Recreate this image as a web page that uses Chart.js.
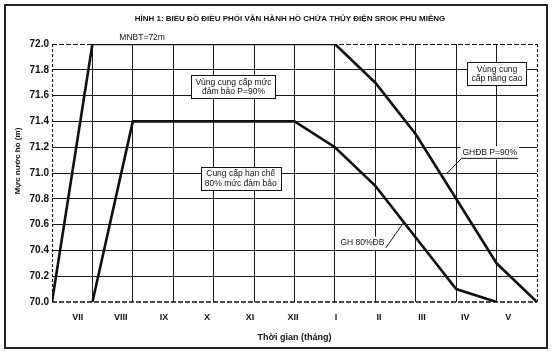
<!DOCTYPE html>
<html><head><meta charset="utf-8">
<script src="https://cdn.jsdelivr.net/npm/chart.js@4"></script>
<style>html,body{margin:0;padding:0;background:#fff}#wrap{width:554px;height:360px}</style>
</head><body><div id="wrap"><canvas id="c" width="554" height="360"></canvas></div>
<script>
// ---- data ----
const monthLabels = ['VII','VIII','IX','X','XI','XII','I','II','III','IV','V'];
const yTickValues = [70.0,70.2,70.4,70.6,70.8,71.0,71.2,71.4,71.6,71.8,72.0];
// upper curve (GHĐB P=90%) : x = month boundary index (0 = start of VII)
const upperX = [0,1,7,8,9,10,11,12];
const upperY = [70.0,72.0,72.0,71.7,71.3,70.8,70.3,70.0];
// lower curve (GH 80%ĐB)
const lowerX = [1,2,6,7,8,9,10,11];
const lowerY = [70.0,71.4,71.4,71.2,70.9,70.5,70.1,70.0];
// MNBT = 72 m
const mnbtX = [0,12];
const mnbtY = [72.0,72.0];

const FONT = '"Liberation Sans", Arial, sans-serif';
const INK = '#111';

const toPts = (xs, ys) => xs.map((x,i)=>({x:x, y:ys[i]}));

// annotation placement (data units)
const boxes = [
  {lines:['Vùng cung cấp mức','đảm bảo P=90%'], x:4.49, y:71.67},
  {lines:['Cung cấp hạn chế','80% mức đảm bảo'], x:4.67, y:70.96},
  {lines:['Vùng cung','cấp nâng cao'], x:11.01, y:71.77}
];
const callouts = [
  {text:'GHĐB P=90%', x:10.83, y:71.16, underline:true, from:[10.14,71.115], to:[9.78,71.0]},
  {text:'GH 80%ĐB', x:7.68, y:70.46, underline:false, from:[8.26,70.42], to:[8.71,70.62]}
];

const xOf = (ch,v)=>ch.scales.x.getPixelForValue(v);
const yOf = (ch,v)=>ch.scales.y.getPixelForValue(v);

const decor = {
  id:'decor',
  beforeDraw(ch){
    const c = ch.ctx;
    c.save();
    c.fillStyle='#fff'; c.fillRect(0,0,ch.width,ch.height);
    c.strokeStyle='#222'; c.lineWidth=2; c.strokeRect(5,5,542,343);
    c.restore();
  },
  beforeDatasetsDraw(ch){
    const c = ch.ctx, a = ch.chartArea;
    c.save(); c.strokeStyle=INK;
    c.setLineDash([3,2]); c.lineWidth=1.1;
    [0,12].forEach(v=>{const px=Math.round(xOf(ch,v))+0.5; c.beginPath(); c.moveTo(px,a.top); c.lineTo(px,a.bottom); c.stroke();});
    c.setLineDash([5,2]); c.lineWidth=1.6;
    const py=yOf(ch,70); c.beginPath(); c.moveTo(a.left,py); c.lineTo(a.right,py); c.stroke();
    c.restore();
  },
  afterDatasetsDraw(ch){
    const c = ch.ctx, a = ch.chartArea;
    c.save();
    // boxes
    c.font = '8.5px '+FONT;
    const lh = 9.5;
    boxes.forEach(n=>{
      const w = Math.max(...n.lines.map(t=>c.measureText(t).width)) + 8;
      const h = n.lines.length*lh + 4;
      const cx = xOf(ch,n.x), cy = yOf(ch,n.y);
      const l = Math.round(cx-w/2)+0.5, t = Math.round(cy-h/2)+0.5;
      c.fillStyle='#fff'; c.fillRect(l,t,w,h);
      c.strokeStyle=INK; c.lineWidth=1; c.setLineDash([]); c.strokeRect(l,t,Math.round(w),Math.round(h));
      c.fillStyle=INK; c.textAlign='center'; c.textBaseline='middle';
      n.lines.forEach((s,i)=>c.fillText(s, cx, cy-(n.lines.length-1)*lh/2+i*lh+0.5));
    });
    // callouts
    callouts.forEach(n=>{
      const cx = xOf(ch,n.x), cy = yOf(ch,n.y);
      const w = c.measureText(n.text).width;
      c.fillStyle='#fff'; c.fillRect(cx-w/2-2, cy-6, w+4, 13);
      c.fillStyle=INK; c.textAlign='center'; c.textBaseline='middle';
      c.fillText(n.text, cx, cy);
      c.strokeStyle=INK; c.lineWidth=1;
      if(n.underline){ c.beginPath(); c.moveTo(cx-w/2-1, cy+6); c.lineTo(cx+w/2+1, cy+6); c.stroke(); }
      c.beginPath(); c.moveTo(xOf(ch,n.from[0]), yOf(ch,n.from[1])); c.lineTo(xOf(ch,n.to[0]), yOf(ch,n.to[1])); c.stroke();
    });
    // MNBT label
    c.fillStyle=INK; c.textAlign='center'; c.textBaseline='alphabetic';
    c.font = '8.5px '+FONT;
    c.fillText('MNBT=72m', xOf(ch,2.23), yOf(ch,72)-4);
    // main title
    c.font = 'bold 8px '+FONT; c.textBaseline='middle';
    c.fillText('HÌNH 1: BIỂU ĐỒ ĐIỀU PHỐI VẬN HÀNH HỒ CHỨA THỦY ĐIỆN SROK PHU MIÊNG', 290, 19);
    // axis titles
    c.font = 'bold 9px '+FONT;
    c.fillText('Thời gian (tháng)', (a.left+a.right)/2, 338);
    c.save(); c.translate(18,161); c.rotate(-Math.PI/2);
    c.font = 'bold 8px '+FONT; c.fillText('Mực nước hồ (m)', 0, 0);
    c.restore();
    c.restore();
  }
};

const edgeX = v => (v===0||v===12);
const edgeY = v => (Math.abs(v-70)<1e-6||Math.abs(v-72)<1e-6);

new Chart(document.getElementById('c'), {
  type:'scatter',
  data:{datasets:[
    {label:'GHĐB P=90%', data:toPts(upperX,upperY), showLine:true, borderColor:INK, borderWidth:2.6, pointRadius:0, tension:0, fill:false},
    {label:'GH 80%ĐB', data:toPts(lowerX,lowerY), showLine:true, borderColor:INK, borderWidth:2.6, pointRadius:0, tension:0, fill:false},
    {label:'MNBT', data:toPts(mnbtX,mnbtY), showLine:true, borderColor:INK, borderWidth:2.2, borderDash:[5,2], pointRadius:0, fill:false}
  ]},
  options:{
    responsive:false, animation:false, devicePixelRatio:1,
    layout:{padding:{left:0,right:17,top:44,bottom:10}},
    plugins:{legend:{display:false}, tooltip:{enabled:false}, title:{display:false}},
    scales:{
      x:{type:'linear', min:0, max:12, position:'bottom',
        ticks:{display:false, stepSize:1},
        grid:{drawTicks:false, lineWidth:1, color:ctx=>edgeX(ctx.tick.value)?'rgba(0,0,0,0)':'#1a1a1a'},
        border:{display:false},
        afterFit:s=>{s.height=0;}},
      x2:{type:'linear', min:-0.6, max:10.67, position:'bottom',
        grid:{display:false, drawTicks:false}, border:{display:false},
        afterBuildTicks:s=>{s.ticks = monthLabels.map((_,i)=>({value:i}));},
        ticks:{autoSkip:false, maxRotation:0, padding:10, color:INK, font:{family:FONT, size:9, weight:'bold'}, callback:(v,i)=>monthLabels[i]},
        afterFit:s=>{s.height=48;}},
      y:{type:'linear', min:70, max:72, position:'left',
        afterBuildTicks:s=>{s.ticks = yTickValues.map(v=>({value:v}));},
        ticks:{padding:3, color:INK, font:{family:FONT, size:10, weight:'bold'}, callback:v=>Number(v).toFixed(1)},
        grid:{drawTicks:false, lineWidth:1, color:ctx=>edgeY(ctx.tick.value)?'rgba(0,0,0,0)':'#1a1a1a'},
        border:{display:false},
        afterFit:s=>{s.width=52;}}
    }
  },
  plugins:[decor]
});
</script></body></html>
